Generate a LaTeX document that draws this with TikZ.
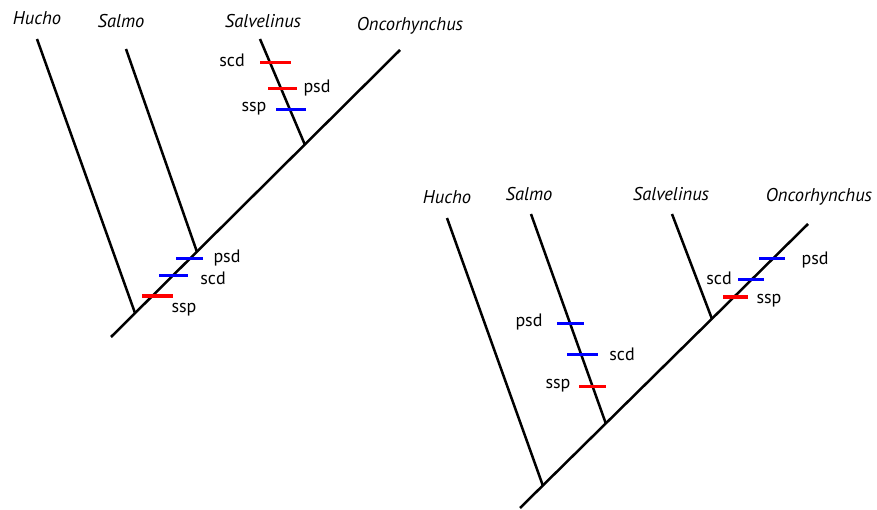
\documentclass[tikz,border=0pt]{standalone}
\usepackage{fontspec}
\setmainfont{PT Sans}
\begin{document}
\begin{tikzpicture}[x=1pt,y=-1pt,
  branch/.style={line width=2.5pt,black},
  bluetick/.style={line width=3pt,blue},
  redtick/.style={line width=3pt,red},
  taxon/.style={font=\fontsize{18.5}{20}\selectfont\itshape,inner sep=0pt},
  lab/.style={font=\fontsize{18}{20}\selectfont,inner sep=0pt}]
\useasboundingbox (0,0) rectangle (877,510);
% ---------- left tree ----------
\coordinate (LR) at (111,337);
\coordinate (LOn) at (400,50);
\coordinate (LHt) at (37,39);
\coordinate (LHb) at (135,313);
\coordinate (LSt) at (126,49);
\coordinate (LSb) at (197,252);
\coordinate (LVt) at (260,39);
\coordinate (LVb) at (305,145);
\draw[branch] (LR) -- (LOn);
\draw[branch] (LHt) -- (LHb);
\draw[branch] (LSt) -- (LSb);
\draw[branch] (LVt) -- (LVb);
\node[taxon] (lhucho) at (37,18) {Hucho};
\node[taxon] (lsalmo) at (121,21) {Salmo};
\node[taxon] (lsalv) at (263,21) {Salvelinus};
\node[taxon] (lonco) at (410,26) {Oncorhynchus};
% trunk ticks
\coordinate (a1) at (176,259); \coordinate (a2) at (203,259);
\coordinate (b1) at (159,276); \coordinate (b2) at (188,276);
\coordinate (c1) at (142,296); \coordinate (c2) at (173,296);
\draw[bluetick] (a1) -- (a2);
\draw[bluetick] (b1) -- (b2);
\draw[redtick] (c1) -- (c2);
\node[lab] (lpsd1) at (227,258) {psd};
\node[lab] (lscd1) at (213,278) {scd};
\node[lab] (lssp1) at (184,310) {ssp};
% Salvelinus ticks
\coordinate (d1) at (260,63); \coordinate (d2) at (291,63);
\coordinate (e1) at (268,89); \coordinate (e2) at (297,89);
\coordinate (f1) at (276,110); \coordinate (f2) at (306,110);
\draw[redtick] (d1) -- (d2);
\draw[redtick] (e1) -- (e2);
\draw[bluetick] (f1) -- (f2);
\node[lab] (lscd2) at (232,60) {scd};
\node[lab] (lpsd2) at (317,88) {psd};
\node[lab] (lssp2) at (254,109) {ssp};
% ---------- right tree ----------
\coordinate (RR) at (520,508);
\coordinate (ROn) at (808,224);
\coordinate (RHt) at (447,218);
\coordinate (RHb) at (543,486);
\coordinate (RSt) at (531,214);
\coordinate (RSb) at (606,424);
\coordinate (RVt) at (672,214);
\coordinate (RVb) at (712,319);
\draw[branch] (RR) -- (ROn);
\draw[branch] (RHt) -- (RHb);
\draw[branch] (RSt) -- (RSb);
\draw[branch] (RVt) -- (RVb);
\node[taxon] (rhucho) at (447,197) {Hucho};
\node[taxon] (rsalmo) at (529,194) {Salmo};
\node[taxon] (rsalv) at (671,194) {Salvelinus};
\node[taxon] (ronco) at (819,197) {Oncorhynchus};
% Salmo ticks
\coordinate (g1) at (557,323); \coordinate (g2) at (584,323);
\coordinate (h1) at (567,354); \coordinate (h2) at (598,354);
\coordinate (i1) at (579,386); \coordinate (i2) at (606,386);
\draw[bluetick] (g1) -- (g2);
\draw[bluetick] (h1) -- (h2);
\draw[redtick] (i1) -- (i2);
\node[lab] (rpsd1) at (529,322) {psd};
\node[lab] (rscd1) at (622,354) {scd};
\node[lab] (rssp1) at (558,386) {ssp};
% Oncorhynchus ticks
\coordinate (j1) at (759,259); \coordinate (j2) at (785,259);
\coordinate (k1) at (738,280); \coordinate (k2) at (764,280);
\coordinate (l1) at (723,297); \coordinate (l2) at (748,297);
\draw[bluetick] (j1) -- (j2);
\draw[bluetick] (k1) -- (k2);
\draw[redtick] (l1) -- (l2);
\node[lab] (rpsd2) at (815,260) {psd};
\node[lab] (rscd2) at (719,278) {scd};
\node[lab] (rssp2) at (769,301) {ssp};
\end{tikzpicture}
\end{document}
